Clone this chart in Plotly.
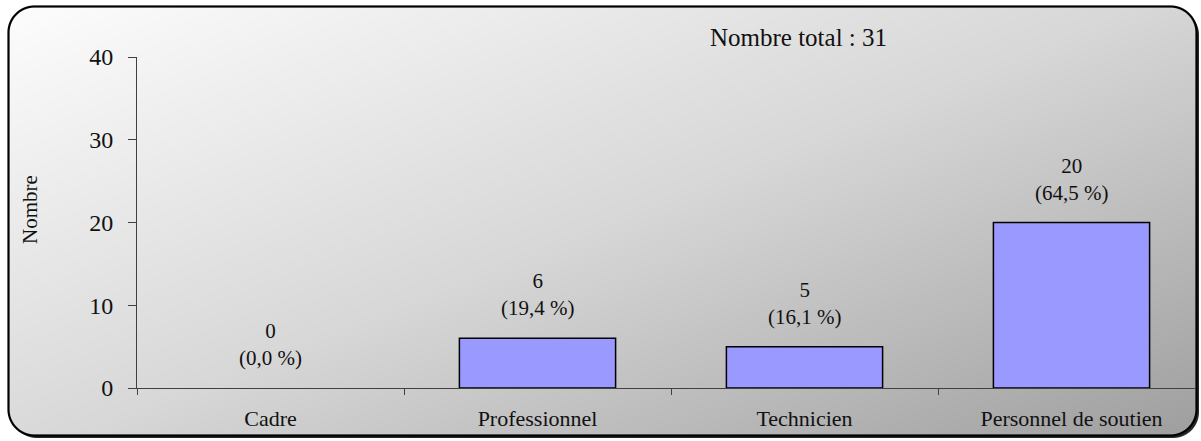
import base64, struct, zlib
import numpy as np
import plotly.graph_objects as go

# ---- data ----
categories = ["Cadre", "Professionnel", "Technicien", "Personnel de soutien"]
values = [0, 6, 5, 20]
y_ticks = [0, 10, 20, 30, 40]
total = sum(values)
title_text = f"Nombre total : {total}"
y_title = "Nombre"

W, H = 1201, 441
ML, MR, MT, MB = 137, 6, 57, 53
PW, PH = W - ML - MR, H - MT - MB
FONT = "Liberation Serif, Times New Roman, serif"


def px_to_paper(px, py):
    return (px - ML) / PW, 1 - (py - MT) / PH


# ---- background image: rounded box with diagonal grey gradient and shadow ----
def rr_sdf(X, Y, x0, y0, x1, y1, r):
    cx, cy = (x0 + x1) / 2, (y0 + y1) / 2
    bx, by = (x1 - x0) / 2, (y1 - y0) / 2
    qx = np.abs(X - cx) - bx + r
    qy = np.abs(Y - cy) - by + r
    outside = np.sqrt(np.maximum(qx, 0) ** 2 + np.maximum(qy, 0) ** 2)
    inside = np.minimum(np.maximum(qx, qy), 0)
    return outside + inside - r


ys, xs = np.mgrid[0:H, 0:W].astype(float)
X, Y = xs + 0.5, ys + 0.5
box = (8.5, 6.5, 1196.5, 435.5, 26)
d_main = rr_sdf(X, Y, *box)
d_sh = rr_sdf(X - 2.5, Y - 2.5, *box)

u = (X - box[0]) / (box[2] - box[0])
v = (Y - box[1]) / (box[3] - box[1])
t = np.clip(1.05 * u + 0.95 * v, 0, 2)
g = np.where(t < 1, 253 - 37 * t, 216 - 57 * (t - 1))

rgb = np.zeros((H, W, 3))
alpha = np.zeros((H, W))


def over(color, a):
    global rgb, alpha
    a = a[..., None]
    col = np.broadcast_to(np.asarray(color, dtype=float), rgb.shape)
    new_alpha = a[..., 0] + alpha * (1 - a[..., 0])
    num = col * a + rgb * alpha[..., None] * (1 - a)
    rgb = np.where(new_alpha[..., None] > 0, num / np.maximum(new_alpha[..., None], 1e-9), 0)
    alpha = new_alpha


over((40, 40, 40), np.clip(0.5 - d_sh, 0, 1))
over(np.stack([g, g, g], axis=-1), np.clip(0.5 - d_main, 0, 1))
over((0, 0, 0), np.clip(1.6 - np.abs(d_main), 0, 1))

img = np.dstack([np.clip(rgb, 0, 255), np.clip(alpha * 255, 0, 255)]).astype(np.uint8)


def png_bytes(arr):
    h, w, _ = arr.shape
    raw = b"".join(b"\x00" + arr[i].tobytes() for i in range(h))

    def chunk(tag, data):
        c = struct.pack(">I", len(data)) + tag + data
        return c + struct.pack(">I", zlib.crc32(tag + data) & 0xFFFFFFFF)

    return (b"\x89PNG\r\n\x1a\n" + chunk(b"IHDR", struct.pack(">IIBBBBB", w, h, 8, 6, 0, 0, 0))
            + chunk(b"IDAT", zlib.compress(raw, 9)) + chunk(b"IEND", b""))


bg_uri = "data:image/png;base64," + base64.b64encode(png_bytes(img)).decode()

# ---- figure ----
fig = go.Figure()
fig.add_trace(go.Bar(
    x=categories, y=values, width=0.585,
    marker=dict(color="#9999FF",
                line=dict(color="#000000", width=[0 if v_ == 0 else 1.5 for v_ in values])),
    hoverinfo="skip",
))

annotations = []
for c, val in zip(categories, values):
    pct = f"{val / total * 100:.1f}".replace(".", ",")
    annotations.append(dict(
        x=c, y=val, xref="x", yref="y", text=f"{val}<br>({pct} %)",
        showarrow=False, yanchor="bottom", yshift=16,
        font=dict(family=FONT, size=21, color="#111111"),
    ))

tx, ty = px_to_paper(798, 38)
annotations.append(dict(x=tx, y=ty, xref="paper", yref="paper", text=title_text,
                        showarrow=False, xanchor="center", yanchor="middle",
                        font=dict(family=FONT, size=25, color="#111111")))
ax_, ay_ = px_to_paper(30, 210)
annotations.append(dict(x=ax_, y=ay_, xref="paper", yref="paper", text=y_title,
                        showarrow=False, xanchor="center", yanchor="middle", textangle=-90,
                        font=dict(family=FONT, size=21, color="#111111")))

ix, iy = px_to_paper(0, 0)
fig.update_layout(
    width=W, height=H,
    margin=dict(l=ML, r=MR, t=MT, b=MB, pad=0),
    paper_bgcolor="white", plot_bgcolor="rgba(0,0,0,0)",
    showlegend=False,
    annotations=annotations,
    images=[dict(source=bg_uri, xref="paper", yref="paper", x=ix, y=iy,
                 sizex=W / PW, sizey=H / PH, xanchor="left", yanchor="top",
                 sizing="stretch", layer="below")],
    xaxis=dict(range=[-0.5, -0.5 + PW / 267], showline=True, linecolor="#404040", linewidth=1,
               ticks="outside", ticklen=6, tickcolor="#404040", tickson="boundaries",
               showgrid=False, zeroline=False, ticklabelstandoff=11,
               tickfont=dict(family=FONT, size=22, color="#111111"), fixedrange=True),
    yaxis=dict(range=[0, 40], tickvals=y_ticks, showline=True, linecolor="#404040", linewidth=1,
               ticks="outside", ticklen=8, tickcolor="#404040", showgrid=False, zeroline=False,
               ticklabelstandoff=10,
               tickfont=dict(family=FONT, size=24, color="#111111"), fixedrange=True),
)

fig.write_html("out.html", config={"displayModeBar": False},
               post_script="document.body.style.margin='0';document.body.style.overflow='hidden';")
